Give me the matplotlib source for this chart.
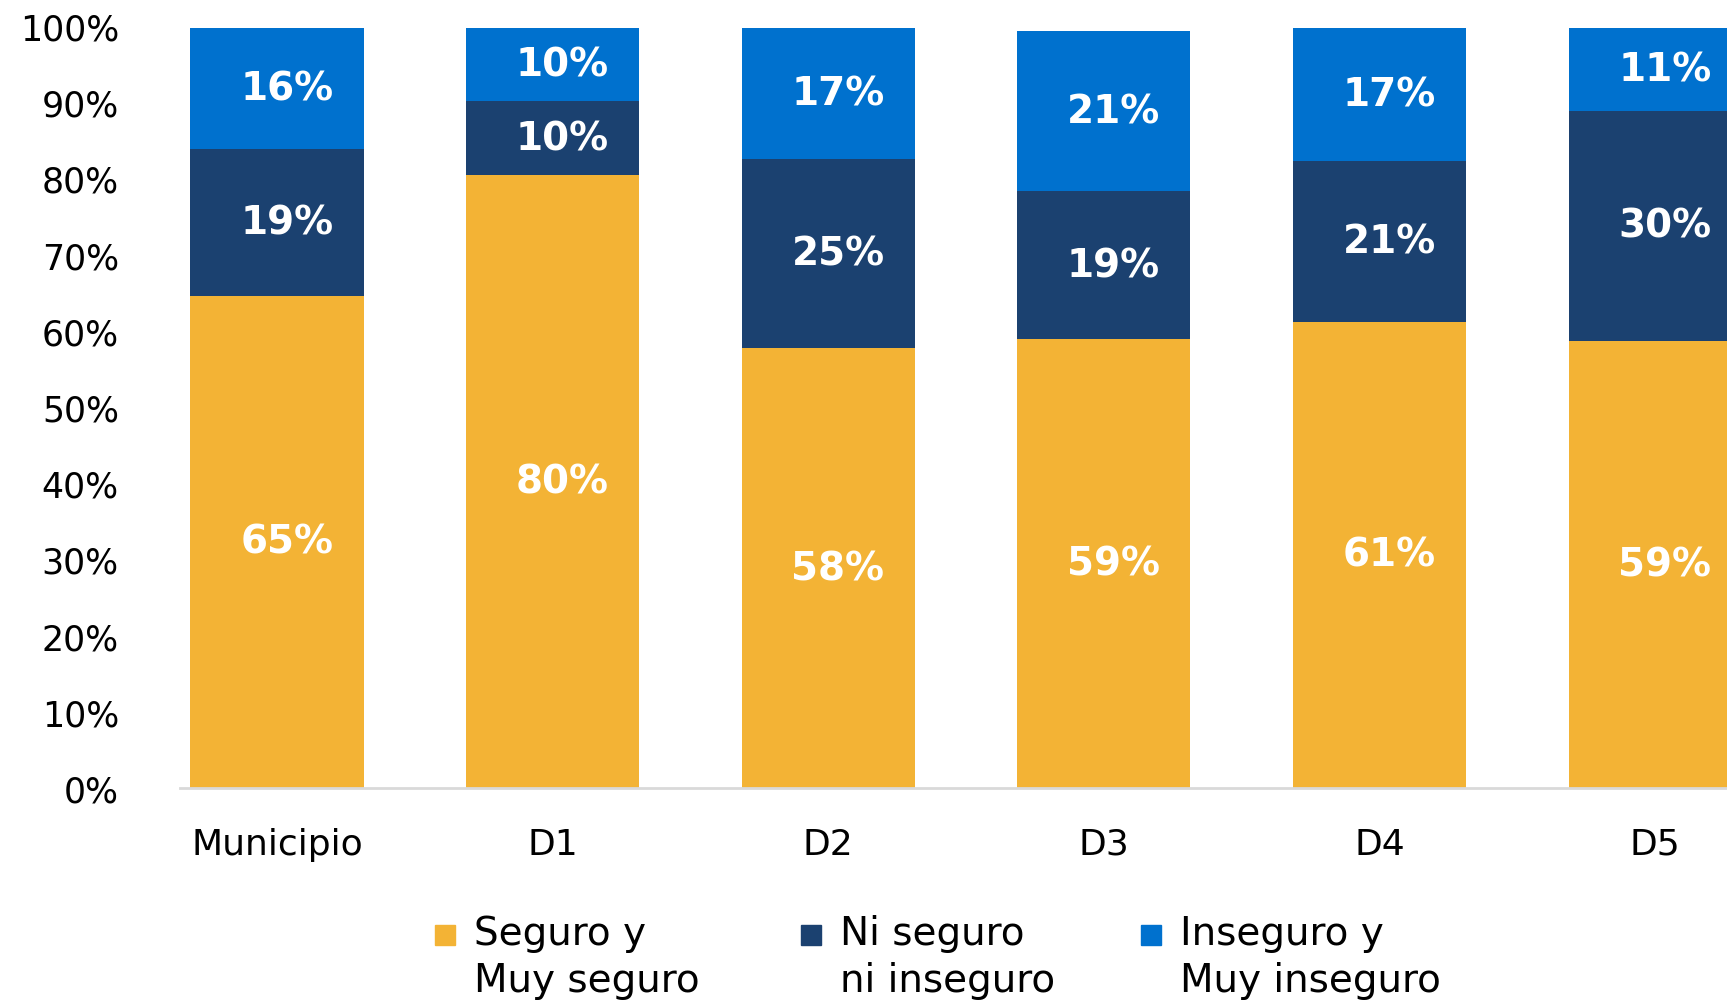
import matplotlib.pyplot as plt
from matplotlib.patches import Rectangle

# data (percent)
categories = ['Municipio', 'D1', 'D2', 'D3', 'D4', 'D5']
seguro = [64.6, 80.4, 57.7, 58.9, 61.2, 58.7]
ni_seguro = [19.2, 9.8, 24.8, 19.4, 21.1, 30.2]
inseguro = [15.9, 9.6, 17.2, 21.0, 17.4, 10.8]
series_names = ['Seguro y\nMuy seguro', 'Ni seguro\nni inseguro', 'Inseguro y\nMuy inseguro']
colors = ['#F3B335', '#1B4170', '#0071CE']

plt.rcParams['font.family'] = ['DejaVu Sans']

fig = plt.figure(figsize=(17.27, 10.03), dpi=100)
ax = fig.add_axes([180 / 1727, 214 / 1003, 1 - 180 / 1727, (1003 - 27) / 1003 - 214 / 1003])

x = list(range(len(categories)))
width = 0.628
bottoms = [0] * len(categories)
for vals, color in zip([seguro, ni_seguro, inseguro], colors):
    ax.bar(x, vals, width=width, bottom=bottoms, color=color, zorder=2)
    for xi, v, b in zip(x, vals, bottoms):
        ax.annotate(f'{round(v)}%', (xi, b + v / 2), xytext=(7, 0), textcoords='offset points',
                    ha='center', va='center', color='white', fontsize=28, fontweight='bold')
    bottoms = [b + v for b, v in zip(bottoms, vals)]

ax.set_xlim(-0.352, 5.261)
ax.set_ylim(0, 100)
ax.set_yticks(range(0, 101, 10))
ax.set_yticklabels([f'{t}%' for t in range(0, 101, 10)])
ax.set_xticks(x)
ax.set_xticklabels(categories)
ax.tick_params(axis='y', length=0, pad=44, labelsize=25)
ax.tick_params(axis='x', length=0, pad=28, labelsize=26)
for side in ['left', 'top', 'right']:
    ax.spines[side].set_visible(False)
ax.spines['bottom'].set_color('#D9D9D9')
ax.spines['bottom'].set_linewidth(2)

# legend drawn by hand so the squares line up with the first text line
leg_x = [435, 801, 1141]
for lx, name, color in zip(leg_x, series_names, colors):
    fig.patches.append(Rectangle((lx / 1727, (1003 - 946) / 1003), 20 / 1727, 20 / 1003,
                                 transform=fig.transFigure, color=color))
    fig.text((lx + 39) / 1727, (1003 - 915) / 1003, name, ha='left', va='top',
             fontsize=28, linespacing=1.3)

fig.savefig('out.png', dpi=100)
